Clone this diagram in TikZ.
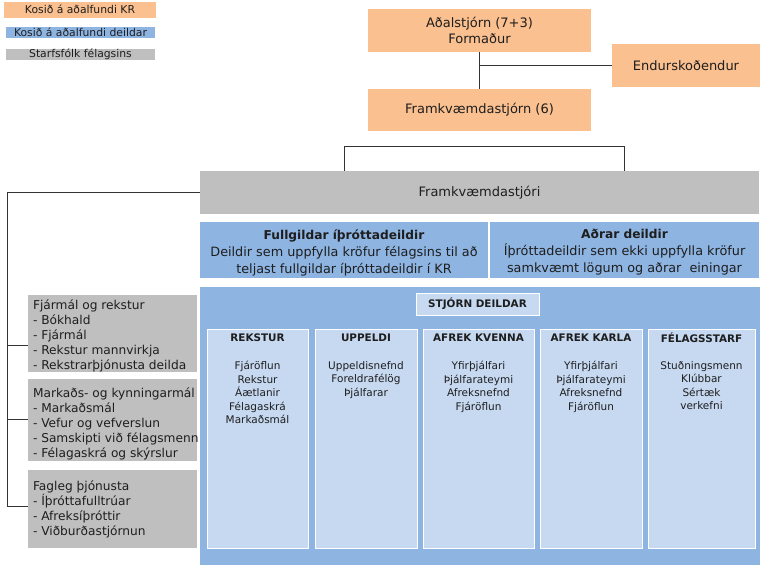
\documentclass[tikz,border=0pt]{standalone}
\usepackage{fontspec}
\setmainfont{DejaVu Sans}
\usetikzlibrary{positioning}

\definecolor{krorange}{RGB}{250,192,144}
\definecolor{krblue}{RGB}{142,180,226}
\definecolor{krlight}{RGB}{198,217,241}
\definecolor{krgrey}{RGB}{191,191,191}
\definecolor{krtext}{RGB}{30,30,30}

\tikzset{
  orgbox/.style={fill=krorange, inner sep=0pt, align=center, text=krtext},
  bluebox/.style={fill=krblue, inner sep=0pt, align=center, text=krtext},
  greybox/.style={fill=krgrey, inner sep=0pt, align=center, text=krtext},
  legbox/.style={inner sep=0pt, align=center, text=krtext, font=\fontsize{10.8}{11}\selectfont},
  headtext/.style={inner sep=0pt, align=center, text=krtext, font=\fontsize{12.8}{17}\selectfont},
  colbox/.style={fill=krlight, draw=white, line width=1pt, inner sep=0pt},
  coltitle/.style={font=\fontsize{10.4}{11}\selectfont\bfseries, text=krtext},
  colitems/.style={anchor=north, align=center, inner sep=0pt, text=krtext,
    font=\fontsize{10.5}{13.5}\selectfont},
  sidebox/.style={fill=krgrey, inner sep=0pt, minimum width=169},
  sidetext/.style={anchor=west, align=left, inner sep=0pt, text=krtext,
    font=\fontsize{12.2}{15}\selectfont},
  conn/.style={draw=black!80, line width=1pt}
}

\begin{document}
\begin{tikzpicture}[x=1pt,y=-1pt,font=\fontsize{13}{16}\selectfont]
				%\draw[help lines] (0,0) grid[step=10pt] (762,565); %help grids
				\useasboundingbox (0,0) rectangle (762,565);

				% legend
				\node[legbox, fill=krorange, minimum width=152, minimum height=16] (legkr) at (80,9.5) {Kosið á aðalfundi KR};
				\node[legbox, fill=krblue, minimum width=149, minimum height=11] (legdeild) at (80.5,32.5) {Kosið á aðalfundi deildar};
				\node[legbox, fill=krgrey, minimum width=149, minimum height=11] (legstarf) at (80.5,54.5) {Starfsfólk félagsins};

				% top
				\node[orgbox, minimum width=223, minimum height=43] (adal) at (479.5,30.5) {Aðalstjórn (7+3)\\Formaður};
				\node[orgbox, minimum width=148, minimum height=43] (endursk) at (686,65.5) {Endurskoðendur};
				\node[orgbox, minimum width=223, minimum height=42] (fstjorn) at (479.5,110) {Framkvæmdastjórn (6)};
				\draw[conn] (adal) -- (fstjorn);
				\draw[conn] (endursk.west) -- (endursk.west -| adal.south);

				\node[greybox, minimum width=559, minimum height=43] (fstj) at (479.5,192.5) {Framkvæmdastjóri};
				\draw[conn] ([xshift=-135.5pt]fstj.north) -- ++(0,-24) -| ([xshift=144.5pt]fstj.north);

				% deildir
				\node[bluebox, minimum width=288, minimum height=56] (fullg) at (344,250) {};
				\node[bluebox, minimum width=269, minimum height=56] (adrar) at (624.5,250) {};
				\node[headtext] (fullg-t) at ([yshift=-2.5pt]fullg.center)
				  {{\fontsize{12.2}{17}\selectfont\bfseries Fullgildar íþróttadeildir}\\Deildir sem uppfylla kröfur félagsins til að\\teljast fullgildar íþróttadeildir í KR};
				\node[headtext] (adrar-t) at ([yshift=-2.5pt]adrar.center)
				  {{\fontsize{12.2}{17}\selectfont\bfseries Aðrar deildir}\\Íþróttadeildir sem ekki uppfylla kröfur\\samkvæmt lögum og aðrar\ \ einingar};

				% starfsfolk
				\node[sidebox, minimum height=77] (fjarmal) at (112.5,333.5) {};
				\node[sidebox, minimum height=82] (markad) at (112.5,420) {};
				\node[sidebox, minimum height=78] (fagleg) at (112.5,509) {};
				\node[sidetext] (fjarmal-t) at ([xshift=5pt,yshift=-2.5pt]fjarmal.west)
				  {Fjármál og rekstur\\- Bókhald\\- Fjármál\\- Rekstur mannvirkja\\- Rekstrarþjónusta deilda};
				\node[sidetext] (markad-t) at ([xshift=5pt,yshift=-4pt]markad.west)
				  {Markaðs- og kynningarmál\\- Markaðsmál\\- Vefur og vefverslun\\- Samskipti við félagsmenn\\- Félagaskrá og skýrslur};
				\node[sidetext] (fagleg-t) at ([xshift=5pt,yshift=0pt]fagleg.west)
				  {Fagleg þjónusta\\- Íþróttafulltrúar\\- Afreksíþróttir\\- Viðburðastjórnun};

				\coordinate (b1) at (7,345);
				\coordinate (b2) at (7,419);
				\coordinate (b3) at (7,506);
				\draw[conn] (fstj.west) -| (b3) -- (b3 -| fagleg.west);
				\draw[conn] (b1) -- (b1 -| fjarmal.west);
				\draw[conn] (b2) -- (b2 -| markad.west);

				% deild
				\node[bluebox, minimum width=560, minimum height=278] (deild) at (480,426) {};
				\node[colbox, minimum width=123, minimum height=22, coltitle] (stjorn) at (477.5,304) {STJÓRN DEILDAR};

				\node[colbox, minimum width=101, minimum height=219] (rekstur) at (257.5,438.5) {};
				\node[colbox, minimum width=102, minimum height=219] (uppeldi) at (366,438.5) {};
				\node[colbox, minimum width=111, minimum height=219] (kvenna) at (478.5,438.5) {};
				\node[colbox, minimum width=102, minimum height=219] (karla) at (591,438.5) {};
				\node[colbox, minimum width=107, minimum height=219] (felag) at (701.5,438.5) {};

				\node[coltitle] (rekstur-t) at (rekstur.north |- 0,338) {REKSTUR};
				\node[coltitle] (uppeldi-t) at (uppeldi.north |- 0,338) {UPPELDI};
				\node[coltitle] (kvenna-t) at (kvenna.north |- 0,338) {AFREK KVENNA};
				\node[coltitle] (karla-t) at (karla.north |- 0,338) {AFREK KARLA};
				\node[coltitle] (felag-t) at (felag.north |- 0,338) {FÉLAGSSTARF};

				\node[colitems] (rekstur-i) at (rekstur.north |- 0,361) {Fjáröflun\\Rekstur\\Áætlanir\\Félagaskrá\\Markaðsmál};
				\node[colitems] (uppeldi-i) at (uppeldi.north |- 0,361) {Uppeldisnefnd\\Foreldrafélög\\Þjálfarar};
				\node[colitems] (kvenna-i) at (kvenna.north |- 0,361) {Yfirþjálfari\\Þjálfarateymi\\Afreksnefnd\\Fjáröflun};
				\node[colitems] (karla-i) at (karla.north |- 0,361) {Yfirþjálfari\\Þjálfarateymi\\Afreksnefnd\\Fjáröflun};
				\node[colitems] (felag-i) at (felag.north |- 0,361) {Stuðningsmenn\\Klúbbar\\Sértæk\\verkefni};
\end{tikzpicture}
\end{document}
